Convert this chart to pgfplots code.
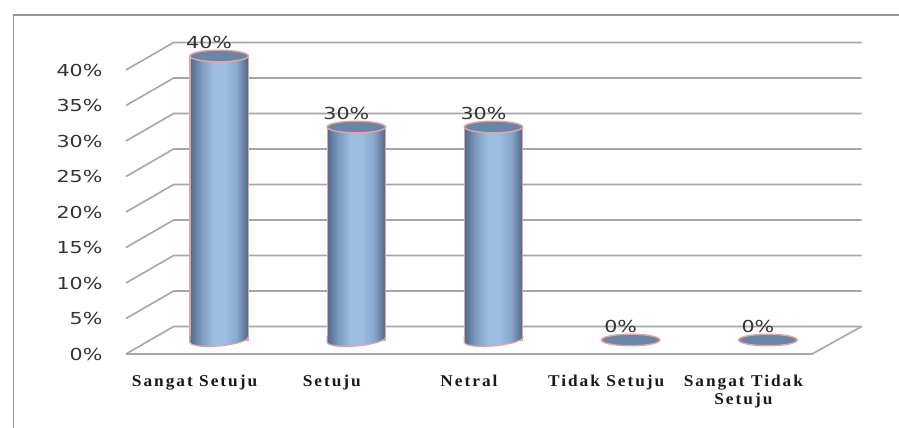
\documentclass[border=0pt]{standalone}
\usepackage{pgfplots}
\usepackage{pgfplotstable}
\pgfplotsset{compat=1.18}
\usepackage{fontspec}
\setmainfont{DejaVu Sans}
\newfontfamily\numfont[FakeStretch=1.25]{DejaVu Sans}
\newfontfamily\catfont[LetterSpace=12,FakeStretch=1.05]{Liberation Serif}
\definecolor{gridc}{HTML}{A6A6A6}
\definecolor{framec}{HTML}{969696}
\definecolor{pinkc}{HTML}{E3A3A3}
\definecolor{topc}{HTML}{6B85A6}
\definecolor{cA}{HTML}{4E6A8C}
\definecolor{cB}{HTML}{7F9BC0}
\definecolor{cC}{HTML}{9DBDE3}
\definecolor{cD}{HTML}{8AA7CD}
\definecolor{cE}{HTML}{4E6785}
\pgfdeclarehorizontalshading{cyl}{100bp}{color(0bp)=(cA); color(25bp)=(cA); color(35bp)=(cB); color(45bp)=(cC); color(55bp)=(cC); color(65bp)=(cD); color(75bp)=(cE); color(100bp)=(cE)}
\pgfdeclareplotmark{cyltop}{\draw[rotate=5,draw=pinkc,fill=topc,line width=1.4pt] (0pt,0pt) ellipse (29.2pt and 5.8pt);}
\pgfplotstableread{
x y
-.2128 .56
-.2128 -.36
-.198 -.625
-.147 -.85
-.069 -.914
.004 -.842
.076 -.669
.153 -.342
.201 .049
.2128 .359
.2128 .56
}\capdata
\pgfplotsset{plane/.style={
  scale only axis,width=686pt,height=284pt,
  xmin=-0.5,xmax=4.5,ymin=0,ymax=40,clip=false,
  axis line style={draw=none},tick style={draw=none},
  /pgf/number format/assume math mode=true,
  anchor=south west},
  cylbar/.style={ybar,bar shift=0pt,bar width=58.4pt,shading=cyl,draw=pinkc,line width=1.2pt,forget plot},
  capfill/.style={shading=cyl,draw=none,no marks,forget plot},
  capline/.style={draw=pinkc,line width=1.2pt,no marks,forget plot}}
\begin{document}
\begin{tikzpicture}[x=1pt,y=1pt]
\useasboundingbox (0,0) rectangle (899,428);
\draw[framec,line width=1.5pt] (13.5,0) -- (13.5,413) -- (899,413);
\begin{axis}[plane,at={(126pt,74pt)},
  xtick={0,1,2,3,4},
  xticklabels={Sangat Setuju,Setuju,Netral,Tidak Setuju,Sangat Tidak\\Setuju},
  x tick label style={font=\catfont\fontsize{16.5}{18}\selectfont\bfseries,text=black!90,align=center,anchor=north,yshift=-18pt},
  ytick={0,5,10,15,20,25,30,35,40},
  yticklabel={\pgfmathprintnumber{\tick}\%},
  y tick label style={font=\numfont\fontsize{16.5}{18}\selectfont,text=black!80,anchor=east,xshift=-20pt}]
\addplot[gridc,line width=1.6pt,unbounded coords=jump,forget plot] coordinates {
(-0.5,0)(-0.153,3.87)(4.861,3.87) (nan,nan)
(-0.5,5)(-0.153,8.87)(4.861,8.87) (nan,nan)
(-0.5,10)(-0.153,13.87)(4.861,13.87) (nan,nan)
(-0.5,15)(-0.153,18.87)(4.861,18.87) (nan,nan)
(-0.5,20)(-0.153,23.87)(4.861,23.87) (nan,nan)
(-0.5,25)(-0.153,28.87)(4.861,28.87) (nan,nan)
(-0.5,30)(-0.153,33.87)(4.861,33.87) (nan,nan)
(-0.5,35)(-0.153,38.87)(4.861,38.87) (nan,nan)
(-0.5,40)(-0.153,43.87)(4.861,43.87)};
\addplot[gridc,line width=1.6pt,forget plot] coordinates {(-0.5,0)(4.5,0)(4.861,3.87)};
\end{axis}
\begin{axis}[plane,at={(150.5pt,88pt)},hide axis]
\addplot[cylbar] coordinates {(0,40)};
\addplot[cylbar] coordinates {(1,30)};
\addplot[cylbar] coordinates {(2,30)};
\addplot[capfill] table[x expr=\thisrow{x},y=y] {\capdata};
\addplot[capline] table[x expr=\thisrow{x},y=y] {\capdata};
\addplot[capfill] table[x expr=\thisrow{x}+1,y=y] {\capdata};
\addplot[capline] table[x expr=\thisrow{x}+1,y=y] {\capdata};
\addplot[capfill] table[x expr=\thisrow{x}+2,y=y] {\capdata};
\addplot[capline] table[x expr=\thisrow{x}+2,y=y] {\capdata};
\addplot[only marks,mark=cyltop,
  nodes near coords={\pgfmathprintnumber{\pgfplotspointmeta}\%},
  every node near coord/.append style={font=\numfont\fontsize{16.5}{18}\selectfont,text=black!80,anchor=center,xshift=-10pt,yshift=14pt},
  forget plot] coordinates {(0,40)(1,30)(2,30)(3,0)(4,0)};
\end{axis}
\end{tikzpicture}
\end{document}
